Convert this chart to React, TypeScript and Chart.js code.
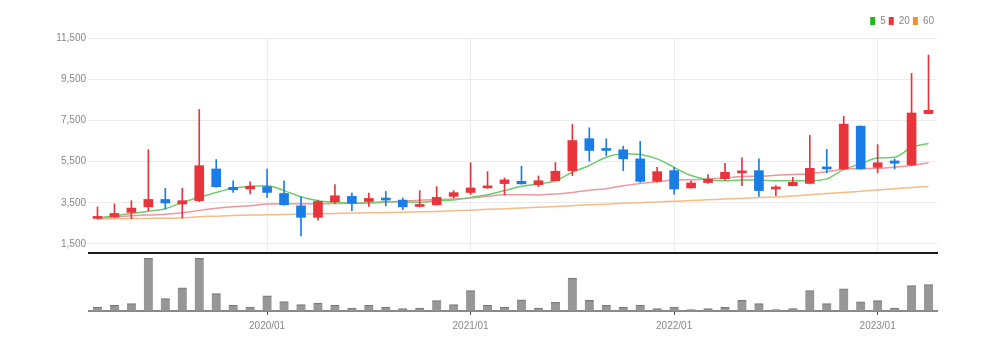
import { useEffect, useRef } from 'react';
import { Chart, registerables } from 'chart.js';

Chart.register(...registerables);

const months = [
  '2019/03', '2019/04', '2019/05', '2019/06', '2019/07', '2019/08', '2019/09', '2019/10', '2019/11', '2019/12',
  '2020/01', '2020/02', '2020/03', '2020/04', '2020/05', '2020/06', '2020/07', '2020/08', '2020/09', '2020/10',
  '2020/11', '2020/12', '2021/01', '2021/02', '2021/03', '2021/04', '2021/05', '2021/06', '2021/07', '2021/08',
  '2021/09', '2021/10', '2021/11', '2021/12', '2022/01', '2022/02', '2022/03', '2022/04', '2022/05', '2022/06',
  '2022/07', '2022/08', '2022/09', '2022/10', '2022/11', '2022/12', '2023/01', '2023/02', '2023/03', '2023/04',
];

const opens = [
  2740, 2820, 3030, 3300, 3660, 3440, 3600, 5140, 4250, 4170,
  4280, 3950, 3350, 2790, 3550, 3810, 3560, 3730, 3630, 3320,
  3400, 3810, 4000, 4220, 4430, 4540, 4380, 4570, 5060, 6610,
  6120, 6070, 5630, 4540, 5060, 4220, 4480, 4670, 4950, 5060,
  4170, 4330, 4440, 5240, 5140, 7220, 5220, 5530, 5340, 7830,
];
const closes = [
  2830, 2980, 3240, 3660, 3490, 3600, 5300, 4280, 4130, 4300,
  4000, 3400, 2790, 3560, 3840, 3470, 3710, 3630, 3300, 3400,
  3760, 3990, 4220, 4320, 4610, 4420, 4570, 5030, 6520, 6040,
  6040, 5630, 4540, 5010, 4170, 4460, 4640, 4980, 5010, 4090,
  4250, 4490, 5170, 5140, 7320, 5140, 5440, 5420, 7860, 7990,
];
const highs = [
  3300, 3440, 3600, 6070, 4200, 4200, 8030, 5600, 4570, 4520,
  5140, 4570, 3790, 3630, 4380, 3970, 3970, 4050, 3730, 4090,
  4280, 4090, 5440, 5010, 4710, 5270, 4800, 5450, 7300, 7140,
  6610, 6250, 6480, 5220, 5220, 4570, 4870, 5420, 5680, 5630,
  4330, 4730, 6770, 6090, 7700, 7230, 6320, 5630, 9780, 10670,
];
const lows = [
  2700, 2790, 2720, 3110, 3190, 2760, 3550, 4250, 4000, 3930,
  3760, 3380, 1890, 2650, 3470, 3110, 3320, 3350, 3160, 3300,
  3380, 3730, 3900, 4200, 3890, 4400, 4280, 4560, 4820, 5520,
  5790, 5060, 4490, 4500, 3920, 4210, 4440, 4600, 4330, 3810,
  3840, 4320, 4410, 4950, 5110, 5130, 4950, 5140, 5300, 7820,
];

const ma5 = [
  2750, 2870, 2980, 3090, 3210, 3520, 3760, 4000, 4200, 4300,
  4330, 4090, 3790, 3600, 3520, 3480, 3500, 3550, 3550, 3520,
  3600, 3630, 3760, 3890, 4090, 4300, 4410, 4570, 4980, 5310,
  5710, 5880, 5840, 5630, 5220, 4820, 4620, 4570, 4600, 4600,
  4570, 4570, 4570, 4660, 5110, 5390, 5670, 5710, 6180, 6380,
];
const ma20 = [
  2750, 2800, 2870, 2900, 2940, 3010, 3130, 3230, 3310, 3350,
  3440, 3450, 3450, 3450, 3460, 3470, 3490, 3530, 3570, 3620,
  3650, 3680, 3730, 3820, 3890, 3890, 3880, 3920, 4000, 4110,
  4180, 4330, 4440, 4520, 4610, 4620, 4660, 4700, 4770, 4790,
  4830, 4870, 4900, 5010, 5130, 5160, 5170, 5230, 5310, 5440,
];
const ma60 = [
  2705, 2720, 2730, 2740, 2750, 2760, 2820, 2850, 2880, 2900,
  2915, 2930, 2950, 2965, 2980, 3000, 3010, 3025, 3040, 3060,
  3080, 3110, 3140, 3180, 3210, 3240, 3280, 3320, 3360, 3400,
  3430, 3470, 3500, 3540, 3570, 3610, 3640, 3680, 3710, 3750,
  3780, 3830, 3890, 3950, 4000, 4060, 4120, 4180, 4240, 4290,
];

const volumes = [
  40000, 57000, 73000, 523000, 123000, 230000, 523000, 173000, 57000, 40000,
  150000, 93000, 63000, 80000, 57000, 30000, 57000, 40000, 23000, 30000,
  103000, 63000, 203000, 57000, 40000, 110000, 30000, 87000, 327000, 107000,
  57000, 40000, 60000, 23000, 40000, 13000, 23000, 37000, 107000, 73000,
  13000, 23000, 203000, 73000, 220000, 90000, 103000, 30000, 253000, 263000,
];

const yTicks = [1500, 3500, 5500, 7500, 9500, 11500];
const legendLabels = ['5', '20', '60'];

const FONT = "'Liberation Sans Narrow', 'Liberation Sans', Arial, sans-serif";
const UP = '#e8343a';
const DOWN = '#1a7de6';
const LEGEND_COLORS = ['#22b422', '#e8343a', '#f0922c'];
const LINE_COLORS = ['rgba(110,205,110,1)', 'rgba(240,150,158,1)', 'rgba(245,188,135,1)'];

export default function App() {
  const priceRef = useRef<HTMLCanvasElement>(null);
  const volRef = useRef<HTMLCanvasElement>(null);

  useEffect(() => {
    Chart.defaults.font.family = FONT;
    const isJan = (i: number) => !!months[i] && months[i].endsWith('/01');
    const candleColors = opens.map((o, i) => (closes[i] >= o ? UP : DOWN));
    const mas = [ma5, ma20, ma60];

    const legendHeightPlugin = {
      id: 'legendHeight',
      beforeInit(chart: any) {
        const lg = chart.legend;
        if (lg && !lg.__patched) {
          const orig = lg.fit.bind(lg);
          lg.fit = function () {
            orig();
            this.height = 25;
          };
          lg.__patched = true;
        }
      },
    };

    const price = new Chart(priceRef.current!, {
      type: 'bar',
      data: {
        labels: months,
        datasets: [
          ...mas.map((d, k) => ({
            type: 'line' as const,
            label: legendLabels[k],
            data: d,
            borderColor: LINE_COLORS[k],
            backgroundColor: LINE_COLORS[k],
            borderWidth: 1.5,
            pointRadius: 0,
            cubicInterpolationMode: 'monotone' as const,
            order: 5 + k,
          })),
          {
            type: 'bar' as const,
            label: 'wick',
            data: lows.map((l, i) => [l, highs[i]]),
            backgroundColor: candleColors,
            barThickness: 1,
            grouped: false,
            order: 2,
          },
          {
            type: 'bar' as const,
            label: 'body',
            data: opens.map((o, i) => [o, closes[i]]),
            backgroundColor: candleColors,
            barThickness: 9,
            minBarLength: 2,
            grouped: false,
            order: 1,
          },
        ] as any,
      },
      options: {
        responsive: false,
        animation: false,
        devicePixelRatio: 1,
        layout: { padding: { top: 13, right: 64, bottom: 2, left: 0 } },
        plugins: {
          tooltip: { enabled: false },
          legend: {
            position: 'top',
            align: 'end',
            labels: {
              font: { size: 10, family: FONT },
              color: '#888',
              boxWidth: 5,
              boxHeight: 8,
              padding: 3,
              generateLabels: () =>
                legendLabels.map((t, k) => ({
                  text: t,
                  fillStyle: LEGEND_COLORS[k],
                  strokeStyle: LEGEND_COLORS[k],
                  lineWidth: 0,
                  hidden: false,
                  datasetIndex: k,
                  fontColor: '#888',
                })),
            },
          },
        },
        scales: {
          x: {
            offset: true,
            grid: {
              offset: false,
              drawTicks: false,
              color: (ctx: any) => (isJan(ctx.index) ? '#ececec' : 'rgba(0,0,0,0)'),
            },
            ticks: { display: false, autoSkip: false },
            border: { display: true, color: '#1a1a1a', width: 2 },
          },
          y: {
            min: 1060,
            max: 11500,
            afterBuildTicks: (s: any) => {
              s.ticks = yTicks.map((v) => ({ value: v }));
            },
            afterFit: (s: any) => {
              s.width = 89;
            },
            grid: { color: '#ebebeb', drawTicks: false },
            border: { display: false },
            ticks: {
              font: { size: 10, family: FONT },
              color: '#888',
              padding: 3,
              callback: (v: any) => Number(v).toLocaleString('en-US'),
            },
          },
        },
      },
      plugins: [legendHeightPlugin],
    });

    const vol = new Chart(volRef.current!, {
      type: 'bar',
      data: {
        labels: months,
        datasets: [
          {
            label: 'volume',
            data: volumes,
            backgroundColor: 'rgba(145,145,145,0.95)',
            borderColor: 'rgba(120,120,120,1)',
            borderWidth: { top: 1, left: 0, right: 0, bottom: 0 },
            borderSkipped: false,
            barThickness: 9,
          },
        ],
      },
      options: {
        responsive: false,
        animation: false,
        devicePixelRatio: 1,
        layout: { padding: { top: 0, right: 64, bottom: 12, left: 89 } },
        plugins: { legend: { display: false }, tooltip: { enabled: false } },
        scales: {
          x: {
            offset: true,
            grid: {
              offset: false,
              drawOnChartArea: false,
              drawTicks: true,
              tickLength: 4,
              tickColor: (ctx: any) => (isJan(ctx.index) ? '#555' : 'rgba(0,0,0,0)'),
            },
            border: { display: true, color: '#888', width: 2 },
            ticks: {
              autoSkip: false,
              maxRotation: 0,
              padding: 5,
              font: { size: 10, family: FONT },
              color: '#888',
              callback: (_v: any, i: number) => (isJan(i) ? months[i] : ''),
            },
          },
          y: { display: false, min: 0, max: 577000 },
        },
      },
    });

    return () => {
      price.destroy();
      vol.destroy();
    };
  }, []);

  return (
    <div style={{ position: 'fixed', left: 0, top: 0, width: 1001, height: 349, background: '#fff', overflow: 'hidden' }}>
      <canvas ref={priceRef} width={1001} height={262} style={{ position: 'absolute', left: 0, top: 0, width: 1001, height: 262 }} />
      <canvas ref={volRef} width={1001} height={96} style={{ position: 'absolute', left: 0, top: 253, width: 1001, height: 96 }} />
    </div>
  );
}
